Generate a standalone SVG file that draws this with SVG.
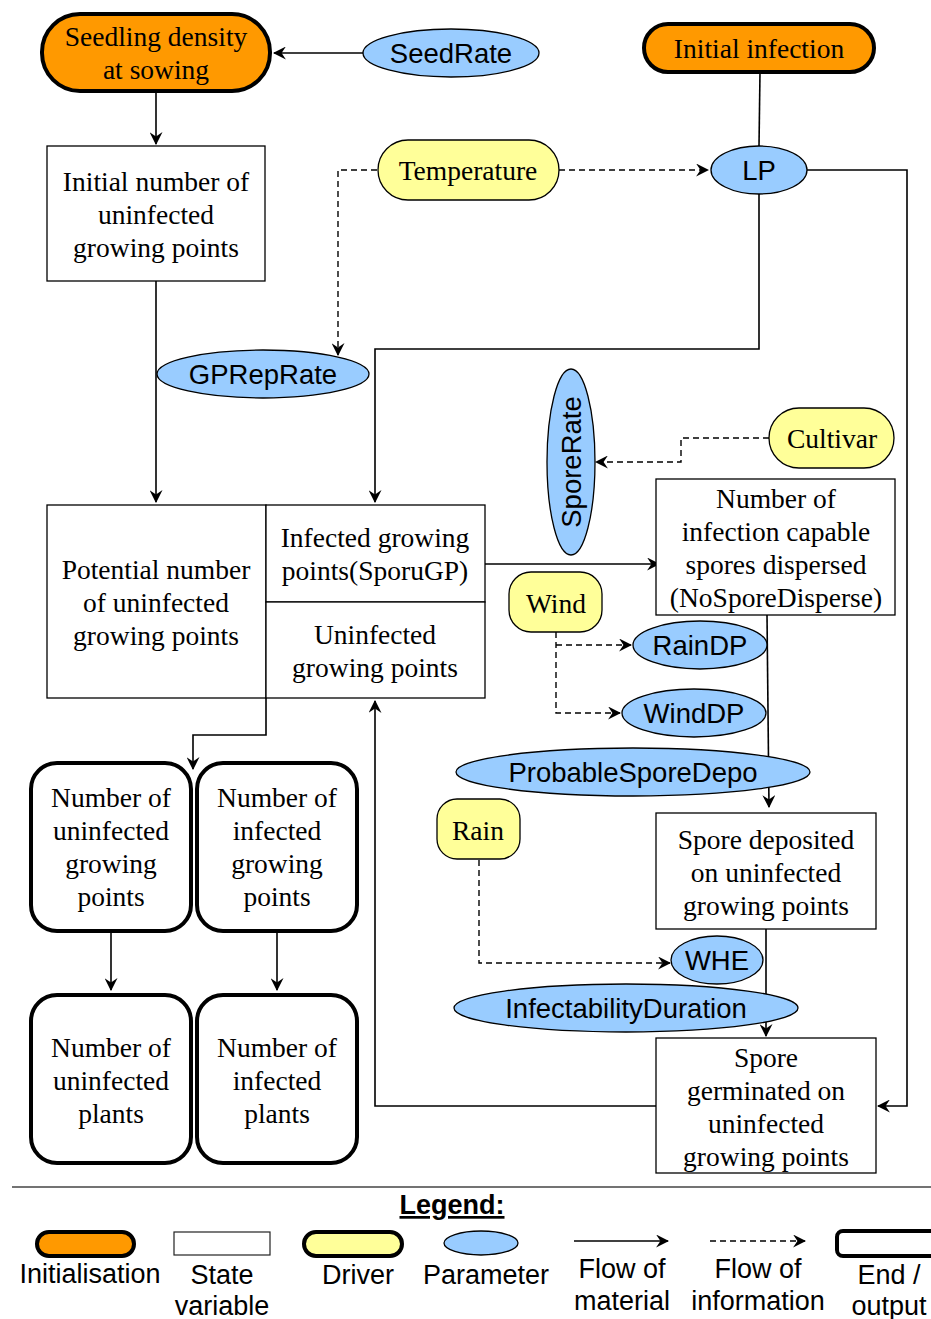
<svg xmlns="http://www.w3.org/2000/svg" width="931" height="1319" viewBox="0 0 931 1319">
<defs>
<marker id="ah" viewBox="0 0 12 12" refX="11" refY="6" markerWidth="13" markerHeight="13" markerUnits="userSpaceOnUse" orient="auto">
<path d="M0,0 L12,6 L0,12 L4,6 z" fill="#000"/>
</marker>
<style>
.init{fill:#FF9900;stroke:#000;stroke-width:4}
.state{fill:#fff;stroke:#000;stroke-width:1.3}
.drv{fill:#FFFF99;stroke:#000;stroke-width:1.3}
.par{fill:#99CCFF;stroke:#000;stroke-width:1.3}
.end{fill:#fff;stroke:#000;stroke-width:4}
.ser{font-family:"Liberation Serif","Times New Roman",serif;font-size:27.5px;text-anchor:middle;fill:#000}
.san{font-family:"Liberation Sans",Arial,sans-serif;font-size:27.5px;text-anchor:middle;fill:#000}
.leg{font-family:"Liberation Sans Narrow","Liberation Sans",sans-serif;font-size:27px;text-anchor:middle;fill:#000}
.f{fill:none;stroke:#000;stroke-width:1.6}
.d{fill:none;stroke:#000;stroke-width:1.4;stroke-dasharray:6,4}
</style>
</defs>
<rect width="931" height="1319" fill="#fff"/>

<g id="connectors">
<path class="f" d="M365,53 H274" marker-end="url(#ah)"/>
<path class="f" d="M156,92 V144" marker-end="url(#ah)"/>
<path class="f" d="M760,72 L759,146"/>
<path class="d" d="M559,170 H708" marker-end="url(#ah)"/>
<path class="d" d="M377,170 H338 V355" marker-end="url(#ah)"/>
<path class="f" d="M156,281 V502" marker-end="url(#ah)"/>
<path class="f" d="M759,194 V349 H375 V502" marker-end="url(#ah)"/>
<path class="f" d="M806,170 H907 V1106 H878" marker-end="url(#ah)"/>
<path class="f" d="M485,564 H659" marker-end="url(#ah)"/>
<path class="d" d="M769,438 H681 V462 H596" marker-end="url(#ah)"/>
<path class="d" d="M556,632 V713 H620" marker-end="url(#ah)"/>
<path class="d" d="M556,645 H631" marker-end="url(#ah)"/>
<path class="f" d="M767,615 L769,807" marker-end="url(#ah)"/>
<path class="d" d="M479,840 V963 H670" marker-end="url(#ah)"/>
<path class="f" d="M766,929 V1036" marker-end="url(#ah)"/>
<path class="f" d="M656,1106 H375 V701" marker-end="url(#ah)"/>
<path class="f" d="M266,698 V735 H193 V769" marker-end="url(#ah)"/>
<path class="f" d="M111,931 V990" marker-end="url(#ah)"/>
<path class="f" d="M277,931 V990" marker-end="url(#ah)"/>
</g>

<g id="seedling">
<rect class="init" x="42" y="14" width="228" height="77" rx="38"/>
<text class="ser" x="156" y="46">Seedling density</text>
<text class="ser" x="156" y="79">at sowing</text>
</g>
<g id="seedrate">
<ellipse class="par" cx="451" cy="53" rx="88" ry="24"/>
<text class="san" x="451" y="63">SeedRate</text>
</g>
<g id="initinf">
<rect class="init" x="644" y="24" width="230" height="48" rx="24"/>
<text class="ser" x="759" y="58">Initial infection</text>
</g>
<g id="lp">
<ellipse class="par" cx="759" cy="170" rx="48" ry="24"/>
<text class="san" x="759" y="180">LP</text>
</g>
<g id="temperature">
<rect class="drv" x="378" y="140" width="181" height="60" rx="30"/>
<text class="ser" x="468" y="180">Temperature</text>
</g>
<g id="initnum">
<rect class="state" x="47" y="146" width="218" height="135"/>
<text class="ser" x="156" y="191">Initial number of</text>
<text class="ser" x="156" y="224">uninfected</text>
<text class="ser" x="156" y="257">growing points</text>
</g>
<g id="gpreprate">
<ellipse class="par" cx="263" cy="374" rx="106" ry="24"/>
<text class="san" x="263" y="384">GPRepRate</text>
</g>
<g id="potential">
<rect class="state" x="47" y="505" width="219" height="193"/>
<text class="ser" x="156" y="579">Potential number</text>
<text class="ser" x="156" y="612">of uninfected</text>
<text class="ser" x="156" y="645">growing points</text>
</g>
<g id="infectedgp">
<rect class="state" x="266" y="505" width="219" height="97"/>
<text class="ser" x="375" y="547">Infected growing</text>
<text class="ser" x="375" y="580">points(SporuGP)</text>
</g>
<g id="uninfectedgp">
<rect class="state" x="266" y="602" width="219" height="96"/>
<text class="ser" x="375" y="644">Uninfected</text>
<text class="ser" x="375" y="677">growing points</text>
</g>
<g id="sporerate">
<ellipse class="par" cx="571" cy="462" rx="24" ry="93"/>
<text class="san" transform="translate(581,462) rotate(-90)" x="0" y="0">SporeRate</text>
</g>
<g id="cultivar">
<rect class="drv" x="769" y="408" width="125" height="60" rx="30"/>
<text class="ser" x="832" y="448">Cultivar</text>
</g>
<g id="nosporedisperse">
<rect class="state" x="656" y="479" width="239" height="136"/>
<text class="ser" x="776" y="508">Number of</text>
<text class="ser" x="776" y="541">infection capable</text>
<text class="ser" x="776" y="574">spores dispersed</text>
<text class="ser" x="776" y="607">(NoSporeDisperse)</text>
</g>
<g id="wind">
<rect class="drv" x="509" y="572" width="93" height="60" rx="22"/>
<text class="ser" x="556" y="613">Wind</text>
</g>
<g id="raindp">
<ellipse class="par" cx="700" cy="645" rx="67" ry="24"/>
<text class="san" x="700" y="655">RainDP</text>
</g>
<g id="winddp">
<ellipse class="par" cx="694" cy="713" rx="72" ry="24"/>
<text class="san" x="694" y="723">WindDP</text>
</g>
<g id="probablesporedepo">
<ellipse class="par" cx="633" cy="772" rx="177" ry="24"/>
<text class="san" x="633" y="782">ProbableSporeDepo</text>
</g>
<g id="rain">
<rect class="drv" x="437" y="799" width="83" height="60" rx="20"/>
<text class="ser" x="478" y="840">Rain</text>
</g>
<g id="sporedeposited">
<rect class="state" x="656" y="813" width="220" height="116"/>
<text class="ser" x="766" y="849">Spore deposited</text>
<text class="ser" x="766" y="882">on uninfected</text>
<text class="ser" x="766" y="915">growing points</text>
</g>
<g id="whe">
<ellipse class="par" cx="717" cy="960" rx="46" ry="24"/>
<text class="san" x="717" y="970">WHE</text>
</g>
<g id="infectabilityduration">
<ellipse class="par" cx="626" cy="1008" rx="172" ry="24"/>
<text class="san" x="626" y="1018">InfectabilityDuration</text>
</g>
<g id="sporegerminated">
<rect class="state" x="656" y="1038" width="220" height="135"/>
<text class="ser" x="766" y="1067">Spore</text>
<text class="ser" x="766" y="1100">germinated on</text>
<text class="ser" x="766" y="1133">uninfected</text>
<text class="ser" x="766" y="1166">growing points</text>
</g>
<g id="uninfgpend">
<rect class="end" x="31" y="763" width="160" height="168" rx="26"/>
<text class="ser" x="111" y="807">Number of</text>
<text class="ser" x="111" y="840">uninfected</text>
<text class="ser" x="111" y="873">growing</text>
<text class="ser" x="111" y="906">points</text>
</g>
<g id="infgpend">
<rect class="end" x="197" y="763" width="160" height="168" rx="26"/>
<text class="ser" x="277" y="807">Number of</text>
<text class="ser" x="277" y="840">infected</text>
<text class="ser" x="277" y="873">growing</text>
<text class="ser" x="277" y="906">points</text>
</g>
<g id="uninfplants">
<rect class="end" x="31" y="995" width="160" height="168" rx="26"/>
<text class="ser" x="111" y="1057">Number of</text>
<text class="ser" x="111" y="1090">uninfected</text>
<text class="ser" x="111" y="1123">plants</text>
</g>
<g id="infplants">
<rect class="end" x="197" y="995" width="160" height="168" rx="26"/>
<text class="ser" x="277" y="1057">Number of</text>
<text class="ser" x="277" y="1090">infected</text>
<text class="ser" x="277" y="1123">plants</text>
</g>

<g id="legend">
<line x1="12" y1="1187" x2="931" y2="1187" stroke="#444" stroke-width="1.5"/>
<text class="leg" x="452" y="1214" font-weight="bold" text-decoration="underline">Legend:</text>
<rect class="init" x="37" y="1232" width="97" height="24" rx="12"/>
<rect x="174" y="1232" width="96" height="23" fill="#fff" stroke="#222" stroke-width="1.2"/>
<rect class="drv" x="304" y="1232" width="98" height="24" rx="12" style="stroke-width:4"/>
<ellipse class="par" cx="481" cy="1243" rx="37" ry="12"/>
<path class="f" d="M574,1241 H668" marker-end="url(#ah)"/>
<path class="d" d="M710,1241 H805" marker-end="url(#ah)"/>
<rect class="end" x="837" y="1231" width="104" height="25" rx="6"/>
<text class="leg" x="90" y="1283">Initialisation</text>
<text class="leg" x="222" y="1284">State</text>
<text class="leg" x="222" y="1315">variable</text>
<text class="leg" x="358" y="1284">Driver</text>
<text class="leg" x="486" y="1284">Parameter</text>
<text class="leg" x="622" y="1278">Flow of</text>
<text class="leg" x="622" y="1310">material</text>
<text class="leg" x="758" y="1278">Flow of</text>
<text class="leg" x="758" y="1310">information</text>
<text class="leg" x="889" y="1284">End /</text>
<text class="leg" x="889" y="1315">output</text>
</g>
</svg>
